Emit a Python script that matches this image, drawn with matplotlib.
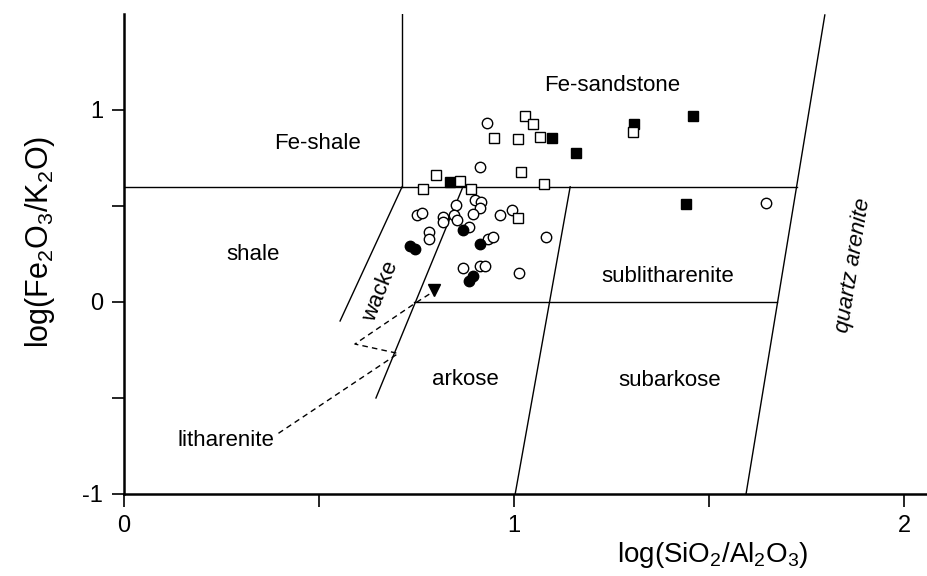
import matplotlib
matplotlib.use('Agg')
import matplotlib.pyplot as plt
import numpy as np

plt.rcParams['font.family'] = ['Liberation Sans', 'DejaVu Sans']
plt.rcParams['mathtext.default'] = 'regular'
plt.rcParams['axes.unicode_minus'] = False

# boundary lines of the classification fields
bound_x = [[0.713, 0.713], [0.0, 1.726], [0.713, 0.554], [0.867, 0.646],
           [0.744, 1.674], [1.144, 1.003], [1.797, 1.595]]
bound_y = [[0.6, 1.5], [0.6, 0.6], [0.6, -0.099], [0.59, -0.5],
           [0.0, 0.0], [0.6, -1.0], [1.495, -1.0]]

# samples
fsq_x = [0.836, 1.097, 1.160, 1.308, 1.459, 1.441]
fsq_y = [0.625, 0.852, 0.776, 0.927, 0.969, 0.510]
osq_x = [0.767, 0.800, 0.862, 0.890, 0.949, 1.010, 1.028, 1.049, 1.067, 1.017, 1.077, 1.304, 1.009]
osq_y = [0.586, 0.661, 0.628, 0.586, 0.852, 0.849, 0.969, 0.927, 0.859, 0.677, 0.615, 0.885, 0.435]
oc_x = [0.931, 0.913, 1.646, 0.851, 0.899, 0.915, 0.912, 0.896, 0.751, 0.764, 0.817, 0.819, 0.845,
        0.853, 0.963, 0.994, 0.884, 0.783, 0.783, 0.933, 0.945, 1.081, 0.870, 0.912, 0.926, 1.013]
oc_y = [0.932, 0.703, 0.516, 0.505, 0.531, 0.521, 0.492, 0.456, 0.453, 0.464, 0.445, 0.419, 0.452,
        0.427, 0.455, 0.478, 0.391, 0.367, 0.330, 0.328, 0.340, 0.339, 0.176, 0.1875, 0.189, 0.149]
fc_x = [0.870, 0.913, 0.733, 0.745, 0.896, 0.885]
fc_y = [0.377, 0.304, 0.293, 0.275, 0.137, 0.108]
tri_x = [0.795]
tri_y = [0.0625]

# litharenite pointer
lith_x = [0.396, 0.703, 0.592, 0.746, 0.793]
lith_y = [-0.684, -0.268, -0.219, -0.007, 0.054]

fields = ['Fe-shale', 'Fe-sandstone', 'shale', 'wacke', 'sublitharenite',
          'arkose', 'subarkose', 'quartz arenite', 'litharenite']
field_x = [0.495, 1.251, 0.331, 0.659, 1.395, 0.875, 1.40, 1.869, 0.261]
field_y = [0.823, 1.125, 0.245, 0.052, 0.135, -0.406, -0.411, 0.193, -0.719]
field_rot = [0, 0, 0, 68, 0, 0, 0, 81, 0]
field_style = ['normal'] * 7 + ['italic', 'normal']

fig = plt.figure(figsize=(9.27, 5.76), dpi=100)
ax = fig.add_axes([0.1338, 0.1424, 0.8662, 0.8333])

for bx, by in zip(bound_x, bound_y):
    ax.plot(bx, by, color='black', linewidth=1.0, zorder=1)
ax.plot(lith_x, lith_y, 'k--', linewidth=1.0, dashes=(4, 3), zorder=1)
ax.plot(tri_x, tri_y, 'kv', markersize=9, zorder=3)

ax.plot(oc_x, oc_y, 'o', markerfacecolor='white', markeredgecolor='black',
        markersize=7.5, markeredgewidth=1.0, linestyle='none', zorder=2)
ax.plot(fc_x, fc_y, 'o', color='black', markersize=7.5, linestyle='none', zorder=2)
ax.plot(fsq_x, fsq_y, 's', color='black', markersize=7.5, linestyle='none', zorder=2)
ax.plot(osq_x, osq_y, 's', markerfacecolor='white', markeredgecolor='black',
        markersize=7.5, markeredgewidth=1.0, linestyle='none', zorder=2)

for name, x, y, r, st in zip(fields, field_x, field_y, field_rot, field_style):
    ax.text(x, y, name, fontsize=16, rotation=r, style=st, ha='center', va='center',
            rotation_mode='anchor')

ax.set_xlim(0, 2.059)
ax.set_ylim(-1, 1.5)
ax.set_xticks([0, 1, 2])
ax.set_xticks([0.5, 1.5], minor=True)
ax.set_yticks([-1, 0, 1])
ax.set_yticks([-0.5, 0.5], minor=True)
ax.tick_params(axis='both', which='both', direction='out', length=9, width=1.2,
               labelsize=17)
ax.tick_params(axis='x', which='both', pad=6)
ax.tick_params(axis='y', which='both', pad=6)
ax.spines['top'].set_visible(False)
ax.spines['right'].set_visible(False)
ax.spines['left'].set_linewidth(1.8)
ax.spines['bottom'].set_linewidth(1.8)

ax.set_xlabel(r'log(SiO$_2$/Al$_2$O$_3$)', fontsize=20)
ax.set_ylabel(r'log(Fe$_2$O$_3$/K$_2$O)', fontsize=22)
ax.xaxis.set_label_coords(0.733, -0.096)
ax.yaxis.set_label_coords(-0.084, 0.525)

plt.savefig('out.png', dpi=100)
